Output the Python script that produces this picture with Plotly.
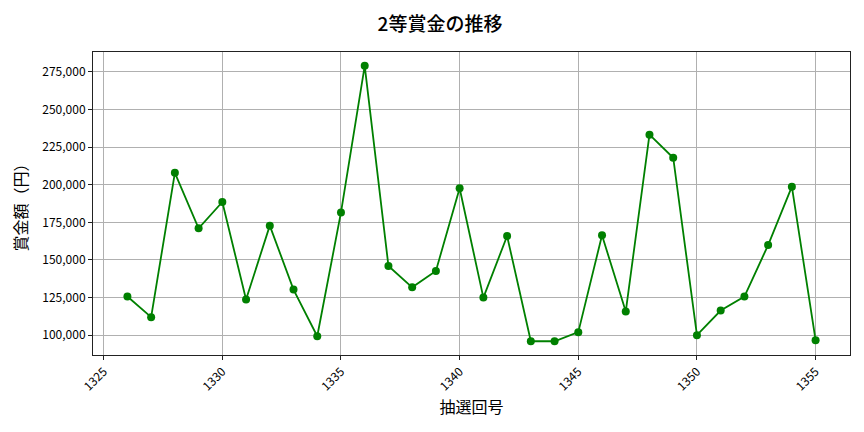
import plotly.graph_objects as go

# 抽選回号 and 2等賞金 (円)
draws = list(range(1326, 1356))
prize = [125700, 112000, 207900, 171000, 188500, 123700, 172800, 130300, 99300, 181600,
         279000, 146000, 131800, 142700, 197600, 125000, 165900, 96000, 96000, 102000,
         166400, 115700, 233200, 217900, 100000, 116400, 125700, 159900, 198700, 96700]

x_ticks = [1325, 1330, 1335, 1340, 1345, 1350, 1355]
y_ticks = [100000, 125000, 150000, 175000, 200000, 225000, 250000, 275000]

font = "Noto Sans CJK JP"

fig = go.Figure()
fig.add_trace(go.Scatter(
    x=draws, y=prize, mode="lines+markers",
    line=dict(color="green", width=1.8),
    marker=dict(color="green", size=8),
))

# page body has an 8px default margin, so margins are shifted to compensate
fig.update_layout(
    width=864, height=432,
    margin=dict(l=85, r=22, t=44, b=85),
    paper_bgcolor="white", plot_bgcolor="white",
    showlegend=False,
    font=dict(family=font, color="black", size=12),
    title=dict(text="2等賞金の推移", x=0.5, xanchor="center", y=0.961, yanchor="middle",
               font=dict(family=font, size=19, color="black", weight=500)),
)

fig.update_xaxes(
    range=[1324.55, 1356.45], tickvals=x_ticks, tickangle=-45, automargin=False,
    showgrid=True, gridcolor="#b0b0b0", gridwidth=0.8,
    showline=True, linecolor="#222", linewidth=1, mirror=True,
    ticks="outside", ticklen=4, tickcolor="#222", zeroline=False,
    title=dict(text="抽選回号", font=dict(family=font, size=16), standoff=8),
)
fig.update_yaxes(
    range=[86850, 288150], tickvals=y_ticks, tickformat=",", automargin=False,
    showgrid=True, gridcolor="#b0b0b0", gridwidth=0.8,
    showline=True, linecolor="#222", linewidth=1, mirror=True,
    ticks="outside", ticklen=4, tickcolor="#222", zeroline=False,
    title=dict(text="賞金額（円）", font=dict(family=font, size=16), standoff=10),
)

fig.write_html("out.html")
